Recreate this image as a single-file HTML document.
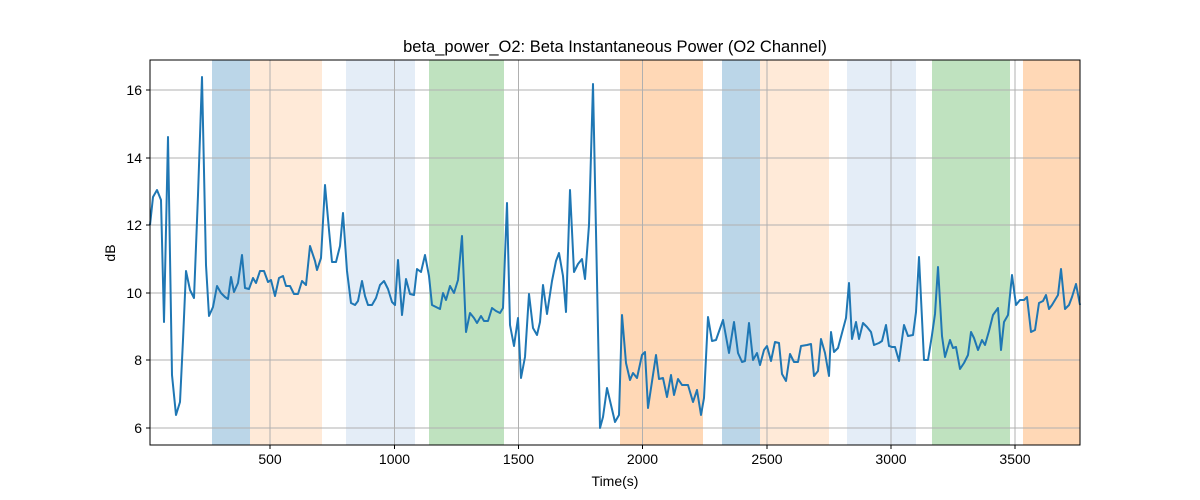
<!DOCTYPE html>
<html><head><meta charset="utf-8"><style>body{margin:0;background:#fff}svg{display:block}text{font-family:"Liberation Sans","DejaVu Sans",sans-serif;fill:#000}</style></head>
<body>
<svg width="1200" height="500" viewBox="0 0 1200 500">
<rect width="1200" height="500" fill="#fff"/>
<g>
<rect x="212" y="60" width="38" height="385" fill="#1f77b4" opacity="0.3"/>
<rect x="250" y="60" width="72" height="385" fill="#ff7f0e" opacity="0.16"/>
<rect x="346" y="60" width="69" height="385" fill="#aec7e8" opacity="0.33"/>
<rect x="429" y="60" width="75" height="385" fill="#2ca02c" opacity="0.3"/>
<rect x="620" y="60" width="83" height="385" fill="#ff7f0e" opacity="0.3"/>
<rect x="722" y="60" width="38" height="385" fill="#1f77b4" opacity="0.3"/>
<rect x="760" y="60" width="69" height="385" fill="#ff7f0e" opacity="0.16"/>
<rect x="847" y="60" width="69" height="385" fill="#aec7e8" opacity="0.33"/>
<rect x="932" y="60" width="78" height="385" fill="#2ca02c" opacity="0.3"/>
<rect x="1023" y="60" width="57" height="385" fill="#ff7f0e" opacity="0.3"/>
</g>
<g stroke="#b0b0b0" stroke-width="1">
<line x1="270" y1="60" x2="270" y2="445"/><line x1="394.5" y1="60" x2="394.5" y2="445"/><line x1="518.5" y1="60" x2="518.5" y2="445"/><line x1="642.5" y1="60" x2="642.5" y2="445"/><line x1="767" y1="60" x2="767" y2="445"/><line x1="891" y1="60" x2="891" y2="445"/><line x1="1015" y1="60" x2="1015" y2="445"/>
<line x1="150" y1="90" x2="1080" y2="90"/><line x1="150" y1="158" x2="1080" y2="158"/><line x1="150" y1="225" x2="1080" y2="225"/><line x1="150" y1="293" x2="1080" y2="293"/><line x1="150" y1="360" x2="1080" y2="360"/><line x1="150" y1="428" x2="1080" y2="428"/>
</g>
<polyline fill="none" stroke="#1f77b4" stroke-width="2" stroke-linejoin="round" points="150,225 153,197 157,190 161,200 164,322 168,137 172,375 176,415 180,402 183,340 186,271 190,290 194,298 198,195 202,77 206,265 209,316 213,307 217,286 221,293 225,297 228,299 231,277 234,292 238,283 242,255 245,288 249,289 253,278 256,283 260,271 264,271 268,282 271,280 275,296 279,278 283,276 286,286 290,286 294,294 298,294 302,281 306,285 310,246 315,261 317,270 321,258 325,185 329,230 332,262 336,262 340,246 343,213 347,271 351,303 355,305 358,301 362,281 365,296 368,305 372,305 376,298 380,285 384,281 388,289 392,302 395,305 398,260 402,315 406,279 410,294 414,295 417,269 421,272 425,255 429,276 432,305 436,307 440,309 443,293 446,300 450,286 454,293 458,280 462,236 466,332 470,313 474,318 477,323 481,316 484,321 488,321 492,308 496,311 500,313 503,308 507,203 510,325 514,346 518,318 521,378 525,357 529,294 533,328 537,335 540,322 543,285 547,314 552,281 556,261 559,253 563,276 566,312 570,190 574,272 578,264 582,259 585,279 589,225 593,84 600,428 603,417 607,388 615,422 619,415 622,315 626,363 630,380 633,373 637,378 642,355 645,352 648,408 656,355 659,379 663,378 667,397 671,375 674,395 678,379 682,385 688,385 693,402 697,390 701,415 704,398 708,317 712,341 716,340 723,320 729,353 734,322 738,353 742,362 745,361 749,323 753,360 757,353 760,365 764,350 767,346 771,361 775,342 779,343 782,374 786,381 790,354 794,362 798,362 801,346 807,345 811,344 814,376 818,371 821,339 825,353 829,376 831,332 834,352 838,348 842,333 846,318 849,283 852,339 856,322 859,339 863,323 867,327 871,332 874,345 879,343 882,341 886,325 889,346 892,347 895,347 899,361 904,325 908,336 913,335 916,312 919,257 924,360 928,360 932,335 935,314 938,267 942,336 945,357 950,340 953,348 956,347 960,369 964,363 968,355 971,332 974,338 978,350 982,340 985,345 989,331 993,315 998,308 1001,350 1004,322 1008,315 1012,275 1016,305 1020,300 1024,300 1027,297 1031,332 1035,330 1039,303 1043,301 1046,295 1049,309 1052,305 1058,295 1061,269 1065,309 1069,305 1072,297 1076,284 1080,305"/>
<rect x="150" y="60" width="930" height="385" fill="none" stroke="#000" stroke-width="1"/>
<g stroke="#000" stroke-width="1">
<line x1="270" y1="445" x2="270" y2="449"/><line x1="394.5" y1="445" x2="394.5" y2="449"/><line x1="518.5" y1="445" x2="518.5" y2="449"/><line x1="642.5" y1="445" x2="642.5" y2="449"/><line x1="767" y1="445" x2="767" y2="449"/><line x1="891" y1="445" x2="891" y2="449"/><line x1="1015" y1="445" x2="1015" y2="449"/>
<line x1="146" y1="90" x2="150" y2="90"/><line x1="146" y1="158" x2="150" y2="158"/><line x1="146" y1="225" x2="150" y2="225"/><line x1="146" y1="293" x2="150" y2="293"/><line x1="146" y1="360" x2="150" y2="360"/><line x1="146" y1="428" x2="150" y2="428"/>
</g>
<g font-size="14" text-anchor="middle">
<text x="270" y="464">500</text><text x="394.5" y="464">1000</text><text x="518.5" y="464">1500</text><text x="642.5" y="464">2000</text><text x="767" y="464">2500</text><text x="891" y="464">3000</text><text x="1015" y="464">3500</text>
</g>
<g font-size="14" text-anchor="end">
<text x="142" y="95">16</text><text x="142" y="163">14</text><text x="142" y="230">12</text><text x="142" y="298">10</text><text x="142" y="365">8</text><text x="142" y="433">6</text>
</g>
<text x="615" y="486" font-size="14" text-anchor="middle">Time(s)</text>
<text x="115" y="253" font-size="14" text-anchor="middle" transform="rotate(-90 115 253)">dB</text>
<text x="615" y="52" font-size="16.5" text-anchor="middle">beta_power_O2: Beta Instantaneous Power (O2 Channel)</text>
</svg>
</body></html>
